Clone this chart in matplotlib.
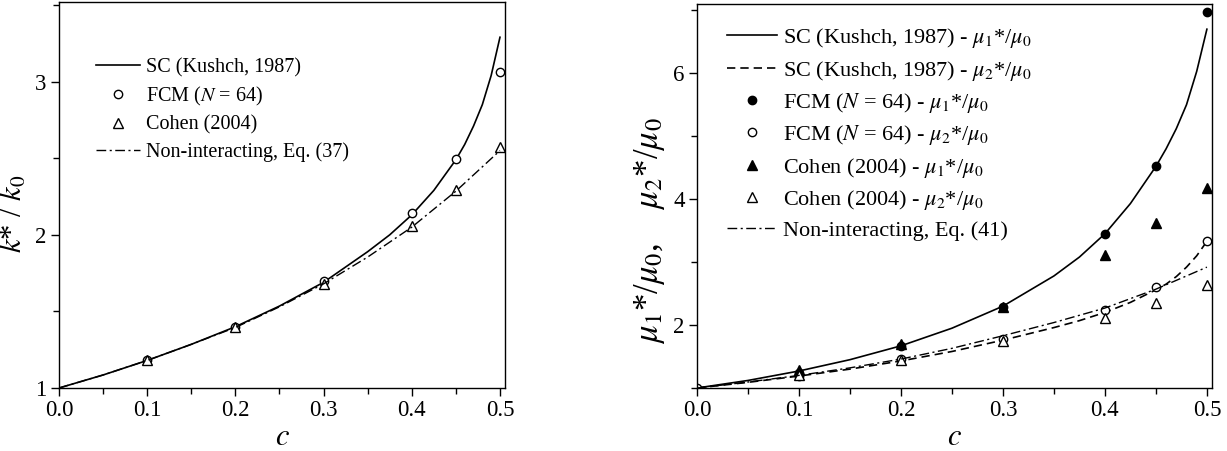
import matplotlib
matplotlib.use("Agg")
import matplotlib.pyplot as plt
from matplotlib.ticker import MultipleLocator

plt.rcParams['font.family'] = ['Liberation Serif', 'DejaVu Serif']
plt.rcParams['mathtext.fontset'] = 'stix'

# ---- Left panel data (k*/k0) ----
c_curve_k = [0, 0.05, 0.1, 0.15, 0.2, 0.25, 0.3, 0.35, 0.375, 0.4, 0.425, 0.45, 0.46, 0.47, 0.48, 0.49, 0.5]
sc_k = [1.0, 1.085, 1.18, 1.285, 1.40, 1.535, 1.69, 1.89, 2.00, 2.13, 2.29, 2.49, 2.59, 2.71, 2.85, 3.04, 3.29]
c_ni_k = [0, 0.05, 0.1, 0.15, 0.2, 0.25, 0.3, 0.35, 0.4, 0.45, 0.5]
ni_k = [1.0, 1.085, 1.18, 1.285, 1.395, 1.53, 1.68, 1.855, 2.05, 2.285, 2.55]
c_pts = [0.1, 0.2, 0.3, 0.4, 0.45, 0.5]
fcm_k = [1.18, 1.40, 1.70, 2.145, 2.495, 3.065]
cohen_k = [1.18, 1.40, 1.68, 2.06, 2.295, 2.575]

# ---- Right panel data (mu*/mu0) ----
c_curve_mu = [0, 0.05, 0.1, 0.15, 0.2, 0.25, 0.3, 0.35, 0.375, 0.4, 0.425, 0.45, 0.46, 0.47, 0.48, 0.49, 0.5]
sc_mu1 = [1.0, 1.12, 1.27, 1.45, 1.67, 1.95, 2.30, 2.78, 3.08, 3.45, 3.93, 4.52, 4.80, 5.12, 5.50, 6.03, 6.70]
sc_mu2 = [1.0, 1.09, 1.19, 1.30, 1.43, 1.58, 1.76, 1.96, 2.07, 2.20, 2.36, 2.56, 2.65, 2.77, 2.92, 3.10, 3.33]
c_ni_mu = [0, 0.05, 0.1, 0.15, 0.2, 0.25, 0.3, 0.35, 0.4, 0.45, 0.5]
ni_mu = [1.0, 1.095, 1.20, 1.32, 1.46, 1.63, 1.83, 2.04, 2.27, 2.57, 2.92]
c_fcm_mu1 = [0.1, 0.2, 0.3, 0.4, 0.45, 0.5]
fcm_mu1 = [1.24, 1.66, 2.29, 3.45, 4.52, 6.97]
c_fcm_mu2 = [0.0, 0.1, 0.2, 0.3, 0.4, 0.45, 0.5]
fcm_mu2 = [1.0, 1.19, 1.46, 1.78, 2.24, 2.61, 3.33]
c_pts_cohen = [0.1, 0.2, 0.3, 0.4, 0.45, 0.5]
cohen_mu1 = [1.29, 1.70, 2.29, 3.12, 3.62, 4.18]
cohen_mu2 = [1.20, 1.45, 1.74, 2.11, 2.35, 2.64]

W, H = 1227, 451
fig = plt.figure(figsize=(W / 100, H / 100), dpi=100)

def px_axes(l, r, t, b):
    return fig.add_axes([l / W, (H - b) / H, (r - l) / W, (b - t) / H])

ax1 = px_axes(59, 505, 2, 388)
ax2 = px_axes(697, 1212, 4, 388)

dashdot = (0, (7, 2.5, 1.5, 2.5))
ms = 6
TICKFS = 16.5

# Left panel
ax1.plot(c_curve_k, sc_k, color='black', lw=1.2, label='SC (Kushch, 1987)')
ax1.plot(c_pts, fcm_k, ls='none', marker='o', ms=ms, mfc='white', mec='black', mew=1.0,
         label='FCM ($N$ = 64)')
ax1.plot(c_pts, cohen_k, ls='none', marker='^', ms=ms + 0.5, mfc='white', mec='black', mew=1.0,
         label='Cohen (2004)')
ax1.plot(c_ni_k, ni_k, color='black', lw=1.0, ls=dashdot, label='Non-interacting, Eq. (37)')
ax1.set_xlim(0, 0.5057)
ax1.set_ylim(1, 3.52)
ax1.set_xticks([0, 0.1, 0.2, 0.3, 0.4, 0.5])
ax1.set_xticklabels(['0.0', '0.1', '0.2', '0.3', '0.4', '0.5'])
ax1.xaxis.set_minor_locator(MultipleLocator(0.05))
ax1.set_yticks([1, 2, 3])
ax1.set_yticklabels(['1', '2', '3'])
ax1.set_yticks([1.5, 2.5, 3.5], minor=True)
ax1.set_xlabel('$c$', fontsize=22, labelpad=1)
ax1.set_ylabel('$k$* / $k_0$', fontsize=22)
ax1.yaxis.set_label_coords(-0.068, 0.45)
leg1 = ax1.legend(loc='upper left', bbox_to_anchor=(0.082, 0.855), frameon=False, fontsize=14.5,
                  handlelength=2.2, handletextpad=0.3, labelspacing=0.38, borderpad=0,
                  borderaxespad=0)

# Right panel
ax2.plot(c_curve_mu, sc_mu1, color='black', lw=1.2, label='SC (Kushch, 1987) - $\\mu_1$*/$\\mu_0$')
ax2.plot(c_curve_mu, sc_mu2, color='black', lw=1.2, ls=(0, (5, 3)),
         label='SC (Kushch, 1987) - $\\mu_2$*/$\\mu_0$')
ax2.plot(c_fcm_mu1, fcm_mu1, ls='none', marker='o', ms=ms, mfc='black', mec='black',
         label='FCM ($N$ = 64) - $\\mu_1$*/$\\mu_0$')
ax2.plot(c_fcm_mu2, fcm_mu2, ls='none', marker='o', ms=ms, mfc='white', mec='black', mew=1.0,
         label='FCM ($N$ = 64) - $\\mu_2$*/$\\mu_0$')
ax2.plot(c_pts_cohen, cohen_mu1, ls='none', marker='^', ms=ms + 0.5, mfc='black', mec='black',
         label='Cohen (2004) - $\\mu_1$*/$\\mu_0$')
ax2.plot(c_pts_cohen, cohen_mu2, ls='none', marker='^', ms=ms + 0.5, mfc='white', mec='black', mew=1.0,
         label='Cohen (2004) - $\\mu_2$*/$\\mu_0$')
ax2.plot(c_ni_mu, ni_mu, color='black', lw=1.0, ls=dashdot, label='Non-interacting, Eq. (41)')
ax2.set_xlim(0, 0.505)
ax2.set_ylim(1.0, 7.1)
ax2.set_xticks([0, 0.1, 0.2, 0.3, 0.4, 0.5])
ax2.set_xticklabels(['0.0', '0.1', '0.2', '0.3', '0.4', '0.5'])
ax2.xaxis.set_minor_locator(MultipleLocator(0.05))
ax2.set_yticks([2, 4, 6])
ax2.set_yticklabels(['2', '4', '6'])
ax2.set_yticks([1, 3, 5, 7], minor=True)
ax2.set_xlabel('$c$', fontsize=22, labelpad=1)
ax2.set_ylabel('$\\mu_1$*/$\\mu_0$,    $\\mu_2$*/$\\mu_0$', fontsize=25)
ax2.yaxis.set_label_coords(-0.058, 0.41)
leg2 = ax2.legend(loc='upper left', bbox_to_anchor=(0.058, 0.942), frameon=False, fontsize=16,
                  handlelength=2.25, handletextpad=0.27, labelspacing=0.375, borderpad=0,
                  borderaxespad=0)

for ax in (ax1, ax2):
    ax.tick_params(which='major', direction='out', length=6, width=1, labelsize=TICKFS,
                   top=False, right=False, pad=3)
    ax.tick_params(which='minor', direction='out', length=4, width=1, top=False, right=False)
    for s in ax.spines.values():
        s.set_linewidth(1.0)

fig.savefig('out.png', dpi=100)
